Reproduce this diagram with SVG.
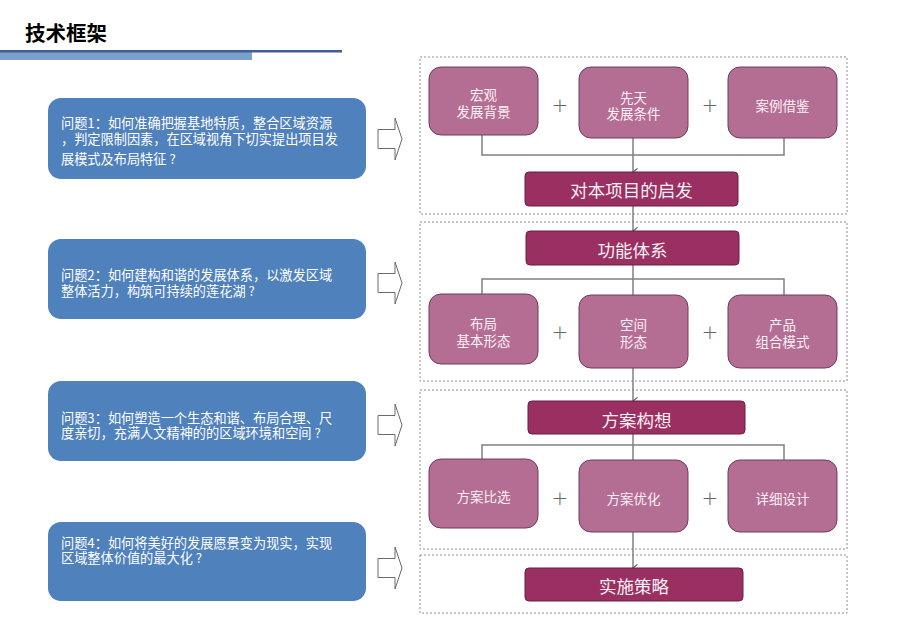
<svg xmlns="http://www.w3.org/2000/svg" width="900" height="629" viewBox="0 0 900 629">
<defs>
<style>
.q{fill:#4F81BD;}
.qt{fill:#ffffff;font-family:"Noto Sans CJK SC","Noto Sans",sans-serif;font-size:13.2px;}
.box{fill:none;stroke:#8c8c8c;stroke-width:1;stroke-dasharray:2,2;}
.m{fill:#B56E93;stroke:#6e3c58;stroke-width:1;}
.d{fill:#9A3062;stroke:#6a1f42;stroke-width:1;}
.mt{fill:#fbeef4;font-family:"Noto Sans CJK SC","Noto Sans",sans-serif;font-size:13.5px;text-anchor:middle;}
.dt{fill:#fbeef4;font-family:"Noto Sans CJK SC","Noto Sans",sans-serif;font-size:17.5px;text-anchor:middle;}
.plus{fill:#666666;font-family:"DejaVu Sans",sans-serif;font-size:20px;font-weight:200;text-anchor:middle;}
.ln{fill:none;stroke:#808080;stroke-width:1.5;}
.ha{fill:#ffffff;stroke:#6a6a6a;stroke-width:1;}
</style>
<marker id="chev" viewBox="0 0 10 10" refX="5" refY="9" markerWidth="9" markerHeight="9" markerUnits="userSpaceOnUse" orient="auto-start-reverse">
<path d="M1,4 L5,9 L9,4" fill="none" stroke="#555555" stroke-width="1.2"/>
</marker>
</defs>
<rect x="0" y="0" width="900" height="629" fill="#ffffff"/>
<g id="header">
<text x="25" y="41" font-family="'Noto Sans CJK SC','Noto Sans',sans-serif" font-size="20.5" font-weight="bold" fill="#000000">技术框架</text>
<rect x="0" y="50" width="252" height="10" fill="#7BA0CD"/>
<rect x="0" y="50" width="342" height="2.5" fill="#3E5F92"/>
</g>
<g id="q1">
<rect class="q" x="48" y="98" width="318" height="81" rx="13"/>
<text class="qt"><tspan x="61" y="128">问题1：如何准确把握基地特质，整合区域资源</tspan><tspan x="61" y="144">，判定限制因素，在区域视角下切实提出项目发</tspan><tspan x="61" y="163.5">展模式及布局特征 ?</tspan></text>
</g>
<g id="q2">
<rect class="q" x="48" y="239" width="318" height="80" rx="13"/>
<text class="qt"><tspan x="61" y="279.5">问题2：如何建构和谐的发展体系，以激发区域</tspan><tspan x="61" y="295.5">整体活力，构筑可持续的莲花湖 ?</tspan></text>
</g>
<g id="q3">
<rect class="q" x="48" y="381" width="318" height="80" rx="13"/>
<text class="qt"><tspan x="61" y="422.5">问题3：如何塑造一个生态和谐、布局合理、尺</tspan><tspan x="61" y="437.5">度亲切，充满人文精神的的区域环境和空间 ?</tspan></text>
</g>
<g id="q4">
<rect class="q" x="48" y="522" width="318" height="79" rx="13"/>
<text class="qt"><tspan x="61" y="547.5">问题4：如何将美好的发展愿景变为现实，实现</tspan><tspan x="61" y="562.5">区域整体价值的最大化 ?</tspan></text>
</g>
<g id="hollow-arrows">
<polygon class="ha" points="378,129.5 395,129.5 395,118 402,139 395,160 395,148.5 378,148.5"/>
<polygon class="ha" points="378,273.5 395,273.5 395,262 402,283 395,304 395,292.5 378,292.5"/>
<polygon class="ha" points="378,415.5 395,415.5 395,404 402,425 395,446 395,434.5 378,434.5"/>
<polygon class="ha" points="378,558.5 395,558.5 395,547 402,568 395,589 395,577.5 378,577.5"/>
</g>
<g id="containers">
<rect class="box" x="420" y="57" width="427" height="157"/>
<rect class="box" x="420" y="222" width="427" height="159"/>
<rect class="box" x="420" y="390" width="427" height="159"/>
<rect class="box" x="420" y="555" width="427" height="58"/>
</g>
<g id="connectors">
<polyline class="ln" points="482,135 482,155 784,155 784,138"/>
<line class="ln" x1="633" y1="138" x2="633" y2="172" marker-end="url(#chev)"/>
<line class="ln" x1="633" y1="206" x2="633" y2="231" marker-end="url(#chev)"/>
<line class="ln" x1="633" y1="265" x2="633" y2="295"/>
<polyline class="ln" points="482,294 482,279 784,279 784,295"/>
<line class="ln" x1="633" y1="368" x2="633" y2="401" marker-end="url(#chev)"/>
<line class="ln" x1="633" y1="434" x2="633" y2="460"/>
<polyline class="ln" points="482,459 482,445 784,445 784,460"/>
<line class="ln" x1="633" y1="532" x2="633" y2="568" marker-end="url(#chev)"/>
</g>
<g id="n-hongguan">
<rect class="m" x="429" y="67" width="109" height="68" rx="12"/>
<text class="mt"><tspan x="483.5" y="100.3">宏观</tspan><tspan x="483.5" y="117.3">发展背景</tspan></text>
</g>
<g id="n-xiantian">
<rect class="m" x="579" y="67" width="109" height="71" rx="12"/>
<text class="mt"><tspan x="633.5" y="103">先天</tspan><tspan x="633.5" y="119">发展条件</tspan></text>
</g>
<g id="n-anli">
<rect class="m" x="728" y="67" width="109" height="71" rx="12"/>
<text class="mt" x="782.5" y="111">案例借鉴</text>
</g>
<g id="plus-1">
<text class="plus" x="560" y="112">+</text>
<text class="plus" x="710" y="112">+</text>
</g>
<g id="n-qifa">
<rect class="d" x="525" y="172" width="213" height="34" rx="4"/>
<text class="dt" x="631.5" y="197">对本项目的启发</text>
</g>
<g id="n-gongneng">
<rect class="d" x="526" y="231" width="213" height="34" rx="4"/>
<text class="dt" x="632.5" y="257">功能体系</text>
</g>
<g id="n-buju">
<rect class="m" x="429" y="294" width="109" height="70" rx="12"/>
<text class="mt"><tspan x="483.5" y="329">布局</tspan><tspan x="483.5" y="346">基本形态</tspan></text>
</g>
<g id="n-kongjian">
<rect class="m" x="579" y="295" width="109" height="73" rx="12"/>
<text class="mt"><tspan x="633.5" y="330">空间</tspan><tspan x="633.5" y="347">形态</tspan></text>
</g>
<g id="n-chanpin">
<rect class="m" x="728" y="295" width="109" height="73" rx="12"/>
<text class="mt"><tspan x="782.5" y="330">产品</tspan><tspan x="782.5" y="347">组合模式</tspan></text>
</g>
<g id="plus-2">
<text class="plus" x="560" y="339">+</text>
<text class="plus" x="710" y="339">+</text>
</g>
<g id="n-fangan">
<rect class="d" x="528" y="401" width="217" height="33" rx="4"/>
<text class="dt" x="636.5" y="426.5">方案构想</text>
</g>
<g id="n-bixuan">
<rect class="m" x="429" y="459" width="109" height="69" rx="12"/>
<text class="mt" x="483.5" y="502">方案比选</text>
</g>
<g id="n-youhua">
<rect class="m" x="579" y="460" width="109" height="72" rx="12"/>
<text class="mt" x="633.5" y="504">方案优化</text>
</g>
<g id="n-sheji">
<rect class="m" x="728" y="460" width="109" height="72" rx="12"/>
<text class="mt" x="782.5" y="504">详细设计</text>
</g>
<g id="plus-3">
<text class="plus" x="560" y="505">+</text>
<text class="plus" x="710" y="505">+</text>
</g>
<g id="n-shishi">
<rect class="d" x="525" y="568" width="218" height="33" rx="4"/>
<text class="dt" x="634" y="593">实施策略</text>
</g>
</svg>
